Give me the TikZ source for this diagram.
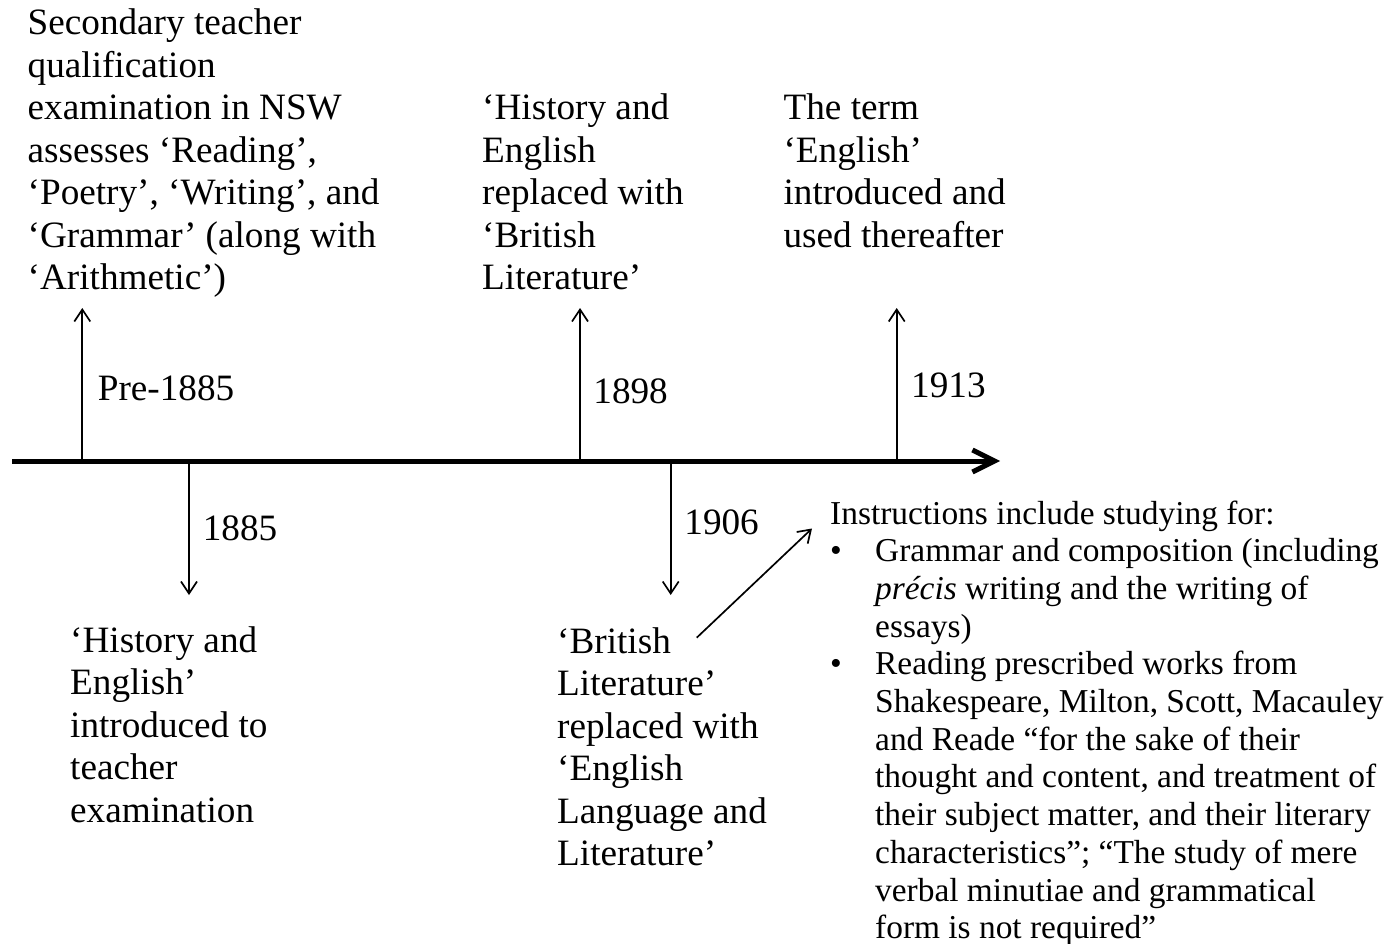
\documentclass[tikz,border=0pt]{standalone}
\usepackage{fontspec}
\setmainfont{Liberation Serif}
\usetikzlibrary{arrows.meta}
% a block of left-aligned lines whose baseline is that of its first line
\newcommand{\lns}[1]{\begin{tabular}[t]{@{}l@{}}#1\end{tabular}}
\newcommand{\bitem}{\makebox[45pt][l]{\textbullet}}
\newcommand{\bcont}{\hspace*{45pt}}
\begin{document}
\begin{tikzpicture}[x=1pt,y=-1pt,
  txt/.style={anchor=base west, inner sep=0pt, font=\fontsize{37.2}{42.5}\selectfont},
  smalltxt/.style={anchor=base west, inner sep=0pt, font=\fontsize{33.4}{37.7}\selectfont},
  tick/.style={line width=1.7pt, -{Straight Barb[length=12pt,width=16pt]}},
  axisline/.style={line width=5pt, -{Straight Barb[length=22pt,width=22pt]}}]
\useasboundingbox (0,0) rectangle (1386,944);

% time axis
\coordinate (a0) at (12,461);
\coordinate (a1) at (1000,461);
\draw[axisline] (a0) -- (a1);

% tick arrows
\coordinate (t1) at (82.3,461);  \coordinate (t1e) at (82.3,308);
\coordinate (t2) at (189,461);   \coordinate (t2e) at (189,595);
\coordinate (t3) at (580,461);   \coordinate (t3e) at (580,308);
\coordinate (t4) at (670.7,461); \coordinate (t4e) at (670.7,595);
\coordinate (t5) at (896.7,461); \coordinate (t5e) at (896.7,308);
\draw[tick] (t1) -- (t1e);
\draw[tick] (t2) -- (t2e);
\draw[tick] (t3) -- (t3e);
\draw[tick] (t4) -- (t4e);
\draw[tick] (t5) -- (t5e);

% years
\node[txt] (y1) at (97.7,400) {Pre-1885};
\node[txt] (y2) at (202.6,540) {1885};
\node[txt] (y3) at (593.2,403) {1898};
\node[txt] (y4) at (684.2,534) {1906};
\node[txt] (y5) at (911,397) {1913};

% events
\node[txt] (e1) at (27.5,35) {\lns{Secondary teacher\\qualification\\examination in NSW\\assesses ‘Reading’,\\‘Poetry’, ‘Writing’, and\\‘Grammar’ (along with\\‘Arithmetic’)}};
\node[txt] (e2) at (70,652) {\lns{‘History and\\English’\\introduced to\\teacher\\examination}};
\node[txt] (e3) at (482,120) {\lns{‘History and\\English\\replaced with\\‘British\\Literature’}};
\node[txt] (e4) at (557,653) {\lns{‘British\\Literature’\\replaced with\\‘English\\Language and\\Literature’}};
\node[txt] (e5) at (783.4,120) {\lns{The term\\‘English’\\introduced and\\used thereafter}};

% details for 1906
\node[smalltxt] (d) at (830,524) {\lns{Instructions include studying for:\\
\bitem Grammar and composition (including\\
\bcont\textit{précis} writing and the writing of\\
\bcont essays)\\
\bitem Reading prescribed works from\\
\bcont Shakespeare, Milton, Scott, Macauley\\
\bcont and Reade “for the sake of their\\
\bcont thought and content, and treatment of\\
\bcont their subject matter, and their literary\\
\bcont characteristics”; “The study of mere\\
\bcont verbal minutiae and grammatical\\
\bcont form is not required”}};

\coordinate (p0) at (696.7,637.7);
\coordinate (p1) at (812,528.5);
\draw[tick] (p0) -- (p1);
\end{tikzpicture}
\end{document}
